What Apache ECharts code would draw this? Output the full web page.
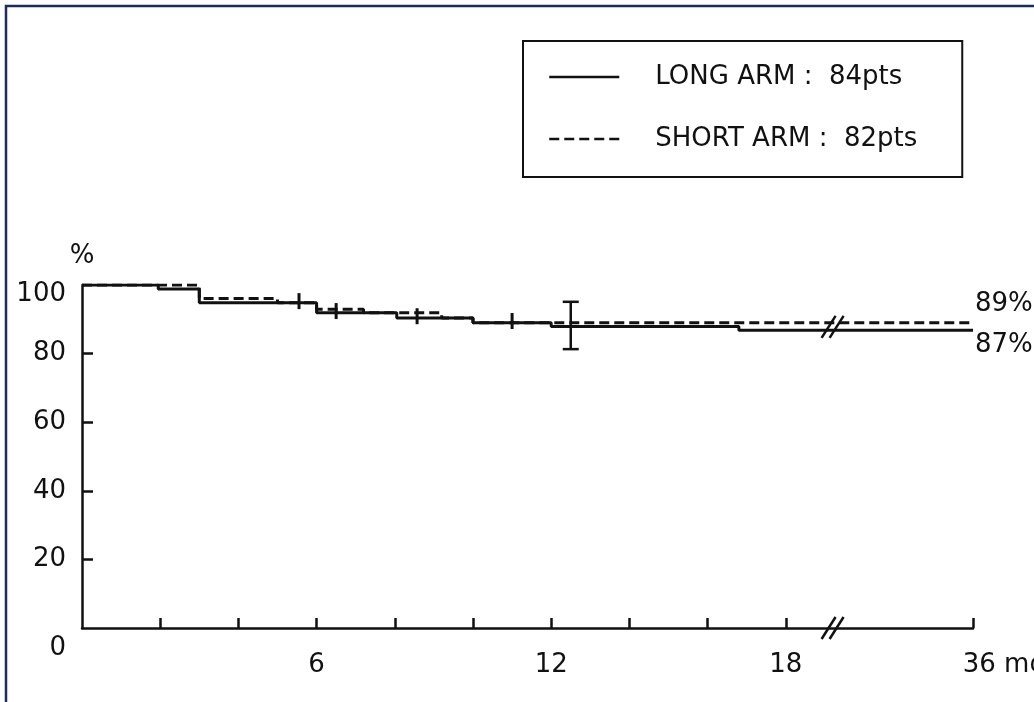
<!DOCTYPE html>
<html>
<head>
<meta charset="utf-8">
<script src="https://cdn.jsdelivr.net/npm/echarts@6/dist/echarts.min.js"></script>
<style>
html, body { margin: 0; padding: 0; background: #fff; }
#chart { width: 1034px; height: 702px; }
</style>
</head>
<body>
<div id="chart"></div>
<script>
// arms and patient counts (legend)
const armNames = ['LONG ARM', 'SHORT ARM']
const armPatients = [84, 82]
const finalLabels = ['87%', '89%']

// survival steps, [month, %]
const longSteps = [[0, 100], [1.95, 98.8], [3.0, 94.8], [6.0, 91.9], [8.05, 90.4], [10.0, 89.0], [12.0, 87.9], [16.8, 86.8], [36, 86.8]]
const shortSteps = [[0, 100], [3.0, 96.1], [5.0, 94.8], [6.0, 92.9], [7.2, 91.9], [9.2, 90.4], [10.0, 89.0], [36, 89.0]]

// censored patients (small vertical ticks)
const longCensored = [[5.55, 95.3], [11.0, 89.5]]
const shortCensored = [[6.5, 92.4], [8.57, 90.9]]

// error bar at 12.5 months [month, low, high]
const errorBars = [[12.5, 81.3, 95.1]]

// x axis: months, broken after 18
const xTicks = [2, 4, 6, 8, 10, 12, 14, 16, 18, 36]
const xLabels = [6, 12, 18, 36]
const yTicks = [0, 20, 40, 60, 80, 100]
const breakMonth = 22.5
const breakLevels = [0, 87.8]

// axis is linear up to 18 months, then squeezed
const cut = 18
const squeeze = 0.266
function toAxis(m) {
  return m <= cut ? m : cut + (m - cut) * squeeze
}
const mapPts = (arr) => arr.map(p => [toAxis(p[0]), ...p.slice(1)])

const ink = '#111'
const font = 'DejaVu Sans'

const myChart = echarts.init(document.getElementById('chart'))

const option = {
  animation: false,
  backgroundColor: '#fff',
  textStyle: { fontFamily: font, color: ink },
  graphic: [
    {
      type: 'rect',
      shape: { x: 6, y: 6, width: 1100, height: 800 },
      style: { fill: 'none', stroke: '#1c2c5c', lineWidth: 2.5 },
      silent: true
    }
  ],
  legend: {
    data: armNames,
    orient: 'vertical',
    left: 523,
    top: 41,
    padding: [21, 12, 23, 25],
    itemWidth: 70,
    itemHeight: 30,
    itemGap: 32,
    borderColor: ink,
    borderWidth: 2,
    selectedMode: false,
    // hide the symbol drawn in the middle of the line icon
    itemStyle: { opacity: 0 },
    lineStyle: { width: 2.5 },
    formatter: (name) => name + ' :  ' + armPatients[armNames.indexOf(name)] + 'pts',
    textStyle: {
      fontFamily: font,
      fontSize: 26,
      color: ink,
      width: 295,
      lineHeight: 30,
      padding: [0, 0, 0, 31]
    }
  },
  grid: { left: 82, right: 61, top: 285, bottom: 74, outerBoundsMode: 'none', containLabel: false },
  xAxis: {
    type: 'value',
    min: 0,
    max: toAxis(36),
    splitLine: { show: false },
    axisLine: { lineStyle: { color: ink, width: 2.5 } },
    axisTick: {
      inside: true,
      length: 10,
      customValues: xTicks.map(toAxis),
      lineStyle: { color: ink, width: 2.5 }
    },
    axisLabel: {
      customValues: xLabels.map(toAxis),
      margin: 24,
      fontSize: 26,
      fontFamily: font,
      color: ink,
      formatter: (v) => {
        if (v > cut) return '{e|' + xLabels[xLabels.length - 1] + ' mo}'
        return String(Math.round(v))
      },
      rich: {
        e: { fontSize: 26, fontFamily: font, color: ink, padding: [0, 0, 0, 62] }
      }
    }
  },
  yAxis: {
    type: 'value',
    min: 0,
    max: 100,
    interval: 20,
    name: '%',
    nameLocation: 'end',
    nameGap: 16,
    nameTextStyle: { fontSize: 26, fontFamily: font, color: ink, align: 'center' },
    splitLine: { show: false },
    axisLine: { show: true, lineStyle: { color: ink, width: 2.5 } },
    axisTick: {
      inside: true,
      length: 11,
      customValues: yTicks.slice(1, -1),
      lineStyle: { color: ink, width: 2.5 }
    },
    axisLabel: {
      margin: 16,
      fontSize: 26,
      fontFamily: font,
      color: ink,
      formatter: (v) => {
        if (v === 0) return '{z|0}'
        if (v === 100) return '{t|100}'
        return String(v)
      },
      rich: {
        z: { fontSize: 26, fontFamily: font, color: ink, padding: [40, 0, 0, 0] },
        t: { fontSize: 26, fontFamily: font, color: ink, padding: [18, 0, 0, 0] }
      }
    }
  },
  series: [
    {
      name: armNames[0],
      type: 'line',
      step: 'end',
      symbol: 'none',
      data: mapPts(longSteps),
      color: ink,
      lineStyle: { color: ink, width: 3, type: 'solid' },
      endLabel: {
        show: true,
        formatter: finalLabels[0],
        fontSize: 26,
        fontFamily: font,
        color: ink,
        distance: 2,
        offset: [0, 15]
      },
      z: 3
    },
    {
      name: armNames[1],
      type: 'line',
      step: 'end',
      symbol: 'none',
      data: mapPts(shortSteps),
      color: ink,
      lineStyle: { color: ink, width: 3, type: [10, 5] },
      endLabel: {
        show: true,
        formatter: finalLabels[1],
        fontSize: 26,
        fontFamily: font,
        color: ink,
        distance: 2,
        offset: [0, -18]
      },
      z: 3
    },
    {
      type: 'scatter',
      symbol: 'rect',
      symbolSize: [3, 16],
      itemStyle: { color: ink, opacity: 1 },
      data: mapPts(longCensored.concat(shortCensored)),
      z: 4
    },
    {
      // error bar
      type: 'custom',
      encode: { x: 0, y: [1, 2] },
      data: mapPts(errorBars),
      renderItem: (params, api) => {
        const lo = api.coord([api.value(0), api.value(1)])
        const hi = api.coord([api.value(0), api.value(2)])
        const w = 8
        const st = { stroke: ink, lineWidth: 2.5 }
        return {
          type: 'group',
          children: [
            { type: 'line', shape: { x1: lo[0], y1: lo[1], x2: hi[0], y2: hi[1] }, style: st },
            { type: 'line', shape: { x1: hi[0] - w, y1: hi[1], x2: hi[0] + w, y2: hi[1] }, style: st },
            { type: 'line', shape: { x1: lo[0] - w, y1: lo[1], x2: lo[0] + w, y2: lo[1] }, style: st }
          ]
        }
      },
      z: 4
    },
    {
      // axis break marks "//"
      type: 'custom',
      clip: false,
      encode: { x: 0, y: 1 },
      data: breakLevels.map(v => [toAxis(breakMonth), v]),
      renderItem: (params, api) => {
        const p = api.coord([api.value(0), api.value(1)])
        const st = { stroke: ink, lineWidth: 2.5 }
        const kids = []
        ;[-4, 4].forEach(off => {
          kids.push({
            type: 'line',
            shape: { x1: p[0] + off - 7, y1: p[1] + 11, x2: p[0] + off + 7, y2: p[1] - 11 },
            style: st
          })
        })
        return { type: 'group', children: kids }
      },
      z: 5
    }
  ]
}

myChart.setOption(option)
</script>
</body>
</html>
